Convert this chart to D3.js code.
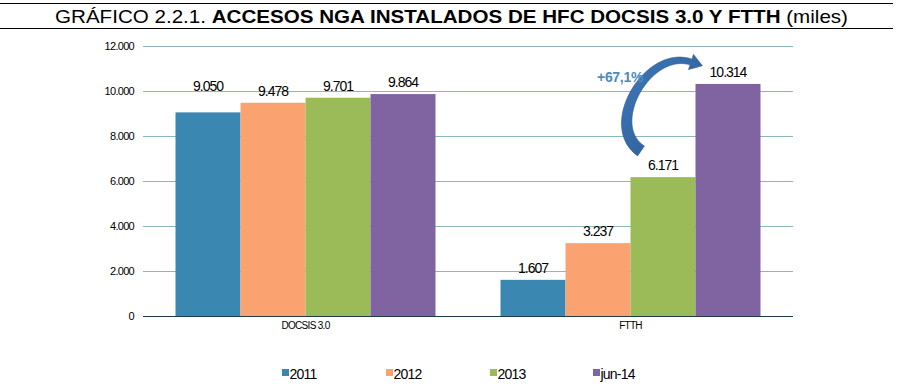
<!DOCTYPE html>
<html><head><meta charset="utf-8">
<script src="https://cdn.jsdelivr.net/npm/d3@7"></script>
<style>
body{margin:0;background:#fff;}
text{font-family:"Liberation Sans",Arial,sans-serif;}
</style></head>
<body><svg id="c" width="900" height="390"></svg>
<script>
const categories = ["DOCSIS 3.0", "FTTH"];
const seriesNames = ["2011", "2012", "2013", "jun-14"];
const s2011 = [9050, 1607];
const s2012 = [9478, 3237];
const s2013 = [9701, 6171];
const sJun14 = [9864, 10314];
const yTicks = [0, 2000, 4000, 6000, 8000, 10000, 12000];
const growthLabel = "+67,1%";

const seriesValues = [s2011, s2012, s2013, sJun14];
const colors = ["#3A87B2", "#FBA271", "#9BBB59", "#8064A2"];

const svg = d3.select("#c");
const loc = d3.formatLocale({decimal: ",", thousands: ".", grouping: [3], currency: ["", ""]});
const fmt = loc.format(",d");

const mLeft = 143, mRight = 793, mTop = 46, mBottom = 316;
const y = d3.scaleLinear().domain([0, 12000]).range([mBottom, mTop]);
const x0 = d3.scaleBand().domain(categories).range([mLeft, mRight]).paddingInner(0.2).paddingOuter(0.1);
const x1 = d3.scaleBand().domain(seriesNames).range([0, x0.bandwidth()]);

// Title
svg.append("line").attr("x1", 0).attr("x2", 893).attr("y1", 3.5).attr("y2", 3.5).attr("stroke", "#000").attr("stroke-width", 1);
svg.append("line").attr("x1", 0).attr("x2", 893).attr("y1", 28.5).attr("y2", 28.5).attr("stroke", "#000").attr("stroke-width", 1);
const title = svg.append("text").attr("x", 55).attr("y", 23).attr("font-size", 18.5)
  .attr("textLength", 793).attr("lengthAdjust", "spacingAndGlyphs").attr("fill", "#000");
title.append("tspan").text("GRÁFICO 2.2.1. ");
title.append("tspan").attr("font-weight", "bold").text("ACCESOS NGA INSTALADOS DE HFC DOCSIS 3.0 Y FTTH");
title.append("tspan").text(" (miles)");

// Grid + y axis labels
const yAxis = d3.axisLeft(y).tickValues(yTicks).tickSize(-(mRight - mLeft)).tickFormat(d => fmt(d)).tickPadding(9);
const ga = svg.append("g").attr("transform", `translate(${mLeft},0)`).call(yAxis);
ga.select(".domain").remove();
ga.selectAll(".tick line").attr("stroke", "#8DB7B9").attr("stroke-width", 1);
ga.selectAll(".tick text").attr("font-size", 11).attr("letter-spacing", -0.7).attr("fill", "#000")
  .attr("font-family", "Liberation Sans, Arial, sans-serif");

// Bars
const data = [];
categories.forEach((c, ci) => seriesNames.forEach((s, si) => data.push({c, s, si, v: seriesValues[si][ci]})));
svg.append("g").selectAll("rect").data(data).join("rect")
  .attr("x", d => x0(d.c) + x1(d.s))
  .attr("width", x1.bandwidth())
  .attr("y", d => y(d.v))
  .attr("height", d => y(0) - y(d.v))
  .attr("fill", d => colors[d.si]);

// baseline
svg.append("line").attr("x1", mLeft).attr("x2", mRight).attr("y1", mBottom + 0.5).attr("y2", mBottom + 0.5)
  .attr("stroke", "#1E3A4C").attr("stroke-width", 1.2);

// value labels
svg.append("g").selectAll("text").data(data).join("text")
  .attr("x", d => x0(d.c) + x1(d.s) + x1.bandwidth() / 2)
  .attr("y", d => y(d.v) - ((d.c === "DOCSIS 3.0" && d.si === 0) ? 21 : 7))
  .attr("text-anchor", "middle").attr("font-size", 14).attr("letter-spacing", -1).attr("fill", "#000")
  .text(d => fmt(d.v));

// category labels
svg.append("g").selectAll("text").data(categories).join("text")
  .attr("x", d => x0(d) + x0.bandwidth() / 2).attr("y", 329)
  .attr("text-anchor", "middle").attr("font-size", 10).attr("letter-spacing", -0.7).attr("fill", "#000")
  .text(d => d);

// legend
const legX = [282, 386, 490, 593];
const leg = svg.append("g").selectAll("g").data(seriesNames).join("g")
  .attr("transform", (d, i) => `translate(${legX[i]},369)`);
leg.append("rect").attr("width", 7).attr("height", 7).attr("fill", (d, i) => colors[i]);
leg.append("text").attr("x", 7.5).attr("y", 9.5).attr("font-size", 14).attr("letter-spacing", -0.8).attr("fill", "#000").text(d => d);

// curved arrow (decorative annotation)
const P = [[641, 151], [603, 125], [648, 48], [691, 62]];
function bez(t) {
  const u = 1 - t;
  return [
    u*u*u*P[0][0] + 3*u*u*t*P[1][0] + 3*u*t*t*P[2][0] + t*t*t*P[3][0],
    u*u*u*P[0][1] + 3*u*u*t*P[1][1] + 3*u*t*t*P[2][1] + t*t*t*P[3][1]
  ];
}
function der(t) {
  const u = 1 - t;
  return [
    3*u*u*(P[1][0]-P[0][0]) + 6*u*t*(P[2][0]-P[1][0]) + 3*t*t*(P[3][0]-P[2][0]),
    3*u*u*(P[1][1]-P[0][1]) + 6*u*t*(P[2][1]-P[1][1]) + 3*t*t*(P[3][1]-P[2][1])
  ];
}
const N = 40, L = [], R = [];
for (let i = 0; i <= N; i++) {
  const t = i / N, p = bez(t), d = der(t);
  const len = Math.hypot(d[0], d[1]);
  const nx = -d[1] / len, ny = d[0] / len;
  const w = (12 - 6 * t) / 2;
  L.push([p[0] + nx * w, p[1] + ny * w]);
  R.push([p[0] - nx * w, p[1] - ny * w]);
}
const pe = bez(1), de = der(1), dl = Math.hypot(de[0], de[1]);
const tx = de[0] / dl, ty = de[1] / dl, hnx = -ty, hny = tx;
const hw = 8, hl = 12;
const head = [
  [pe[0] + hnx * hw, pe[1] + hny * hw],
  [pe[0] + tx * hl, pe[1] + ty * hl],
  [pe[0] - hnx * hw, pe[1] - hny * hw]
];
const poly = L.concat(head).concat(R.slice().reverse());
const grad = svg.append("defs").append("linearGradient").attr("id", "ag").attr("x1", "0").attr("y1", "0").attr("x2", "1").attr("y2", "1");
grad.append("stop").attr("offset", "0").attr("stop-color", "#3F78B8");
grad.append("stop").attr("offset", "1").attr("stop-color", "#2A5A94");
svg.append("path").attr("d", "M" + poly.map(p => p.join(",")).join("L") + "Z")
  .attr("fill", "url(#ag)").attr("stroke", "#2B5A92").attr("stroke-width", 0.6);

svg.append("text").attr("x", 597).attr("y", 82).attr("font-size", 14).attr("font-weight", "bold")
  .attr("letter-spacing", -0.3).attr("fill", "#4A8CC2").text(growthLabel);
</script></body></html>
